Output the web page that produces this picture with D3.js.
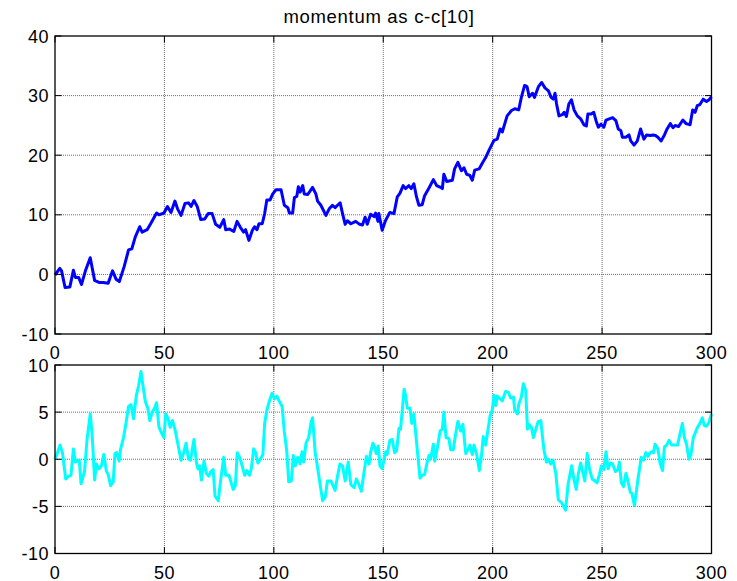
<!DOCTYPE html>
<html>
<head>
<meta charset="utf-8">
<script src="https://cdn.jsdelivr.net/npm/d3@7"></script>
<style>
  html, body { margin: 0; padding: 0; background: #fff; }
  svg { display: block; }
  text { font-family: "Liberation Sans", Arial, sans-serif; fill: #000; }
</style>
</head>
<body>
<svg id="chart" width="737" height="581"></svg>
<script>
const title = "momentum as c-c[10]";
const xTicks = [0, 50, 100, 150, 200, 250, 300];
const topTicks = [-10, 0, 10, 20, 30, 40];
const botTicks = [-10, -5, 0, 5, 10];

const topT = [0,2.2,3,4.6,6.8,8.4,9.3,10.8,12.1,13.9,16.1,18.1,20.1,22,24.3,26.3,27.9,29.4,31.6,33.6,35.1,36.7,38.7,39.8,42.1,43.7,44.9,46.4,47.5,49.8,51.4,53,54.8,56,57.6,59.4,61,62.2,63.5,65,66.6,68.4,70,71.8,73.4,
75.3,77.1,78,79.8,81.7,83.2,84.7,86.2,87.1,88.6,90.2,91.2,92.3,93.2,94.7,95.8,96.8,98.3,99.5,101,103.3,104.8,106.4,107.1,108.6,109.4,110.5,111.2,112,113.2,113.9,115.5,117.7,119.2,120,121.5,123.8,125.3,126.8,128,129.1,130.3,131.4,132.6,133.6,135.2,137.4,139.2,140.5,141.7,142.7,144.2,145.8,146.5,147.6,148,149.5,
151,153,154.9,156.4,157.6,159.1,160.2,161.7,162.8,164,165.2,166.3,167.8,168.9,170.9,172.9,174.4,176.2,177,177.7,179,181.6,182.6,184.1,185.7,186.9,188.1,189.6,190.7,191.8,193.8,195.3,196.8,198.3,200.6,202.1,203.4,204.4,
206.6,208.6,210.1,211.9,213.1,214.6,215.7,216.7,218.2,219.1,220.9,222.4,223.9,225.5,226.7,227.7,228.5,229.2,230.3,231.8,232.7,233.7,234.8,236,237.2,238.7,240.2,241.7,242.8,243.5,245,246.2,247.3,248.3,249.5,250.8,251.8,253.3,254.8,256.3,257.4,258.6,259.3,260.8,262.3,263.1,264.6,266.1,267.6,269.1,270.3,272.1,273.3,274.4,275.5,277,278.5,279.7,281.2,282.4,283.4,284.9,286.9,288.4,290.2,291.4,292.5,293.5,294.7,296.2,297.7,298.9,300];
const topV = [-0.1,1.0,0.6,-2.2,-2.1,0.7,-0.5,-0.5,-1.7,0.6,2.8,-1.0,-1.35,-1.35,-1.5,0.6,-0.8,-1.2,1.3,4.1,4.3,6.3,8.0,7.1,7.5,8.5,9.3,10.3,10.0,10.3,11.4,10.4,12.3,11.0,9.9,11.9,12.0,11.4,12.4,11.4,9.2,9.3,10.2,10.2,8.4,
7.9,9.2,7.5,7.6,7.2,8.9,7.9,7.1,7.5,5.7,7.4,8.0,7.5,8.5,8.5,10.2,12.5,12.5,13.5,14.2,14.2,11.6,11.2,10.3,10.3,12.9,13.1,14.7,13.8,14.9,13.5,13.4,14.6,13.5,12.3,11.6,9.9,11.0,11.6,11.2,11.6,12.0,10.2,8.4,9.0,8.5,8.9,8.4,8.3,9.6,8.4,10.1,9.7,10.3,8.9,10.2,7.4,
9.0,10.4,10.2,13.0,13.6,14.9,14.4,14.9,14.4,15.2,13.0,11.6,11.7,13.2,14.5,15.9,14.9,14.6,14.4,16.8,15.6,15.8,17.7,18.8,17.4,17.9,16.8,16.6,15.8,17.5,17.7,18.7,19.6,20.8,22.5,22.7,24.4,23.9,
26.6,27.5,27.8,27.6,29.7,31.7,31.5,29.8,30.4,29.7,31.5,32.2,31.3,30.8,29.7,29.4,30.4,28.6,26.6,26.8,27.2,26.5,28.6,29.3,27.6,26.6,26.1,25.1,24.9,26.9,26.9,27.2,25.7,24.7,25.2,24.7,25.9,26.1,26.3,25.8,24.4,24.1,23.0,23.0,23.4,22.4,21.7,22.4,24.4,22.7,23.4,23.3,23.4,23.3,23.0,22.4,23.4,24.4,25.3,24.6,25.0,24.8,25.9,25.3,25.1,27.6,27.2,28.3,28.5,29.4,29.0,29.3,29.8];

const botT = [0,1.1,2.3,3.4,4.9,6.2,7.3,8.4,9.3,10.4,11.1,11.9,13.5,14.6,16.1,17,18.1,18.9,20.1,21.2,22.3,23.5,24.3,25.4,26.6,27.4,28.2,29.3,30,31.3,32.5,33.6,34.7,35.9,37.2,38.2,39.3,40.2,41.3,42.4,43.3,44.4,45.5,46.4,47.5,49.1,49.8,50.6,51.7,52.6,53.7,54.8,56,57.6,58.8,59.9,61,61.9,63.5,64.6,65.3,66.1,66.9,68.1,69.2,70.3,71.2,72.3,73.1,
74.6,75.6,77.1,78,79.5,81.4,82.4,83.3,84.7,86.7,87.7,88.9,89.7,90.8,91.7,92.7,93.8,95,95.8,96.8,98,99.2,100.3,101.4,102.6,103.8,104.8,105.9,106.8,108,108.9,109.8,110.9,112,112.9,113.6,114.7,115.9,117,117.7,118.9,120,121.1,122.3,123.5,124.5,126.1,128,129.1,130.2,131.4,132.6,134,135.2,136.7,137.7,138.9,140,141.2,142.3,143.5,144.2,145.3,146.2,146.8,147.7,148.5,149.5,
151.1,151.8,153,154.1,155.2,156.1,157.2,157.9,158.7,159.5,160.2,161,162.2,163,164,165.5,166.8,167.8,168.9,170.1,170.9,171.6,172.9,173.5,174.7,176,177,177.7,178.7,180,180.8,182,183.1,184.1,185.4,186.4,187.7,188.7,189.6,190.7,191.5,192.7,193.9,194.8,195.7,196.8,197.9,198.8,199.8,200.6,201.4,202.1,203.4,204.4,205.9,207.2,208.2,209.5,210.1,211.3,212,213.1,214,215.1,215.9,216.6,217.7,218.6,219.7,220.8,222,222.8,223.5,224.6,
225.5,226.5,227.6,228.8,230,231.5,233.3,234.5,236.1,237.1,238.2,239.1,240.2,241.2,242.1,243.2,244.2,245.5,246.7,247.7,248.8,249.7,250.8,251.8,252.7,253.8,254.8,256.1,257.3,257.9,258.8,259.8,260.9,261.8,262.9,263.6,264.8,266.4,267.9,268.9,270,270.9,272,272.7,273.5,274.2,275.5,276.5,277.6,278.5,279.5,280.6,281.8,283,284.5,285.6,286.7,287.6,288.6,289.7,290.6,291.7,292.4,293.6,294.7,295.8,296.7,297.7,298.8,300];
const botV = [0,0.7,1.5,0.7,-2.1,-1.8,-1.7,1.1,-0.3,-0.1,-0.1,-2.6,-1.3,2.0,4.8,2.5,-2.2,-0.5,-1.0,-0.7,0.5,-1.3,-1.6,-2.8,-2.4,0.6,0.7,-0.2,1.1,2.3,3.9,5.6,5.8,4.3,6.8,7.8,9.3,7.8,6.1,5.4,4.1,5.0,5.4,6.0,3.4,2.6,2.3,4.8,4.3,3.4,4.1,3.2,1.8,-0.1,0.7,1.7,0,-0.1,2.1,-0.3,-1.0,-0.7,-2.2,-0.2,-1.5,-1.8,-1.3,-1.1,-3.9,
-4.4,-2.4,0.2,-1.7,-1.7,-3.2,-2.8,0.7,0,-1.7,-1.2,-1.7,-1.0,1.1,0.7,-0.4,0,0.5,3.8,5.2,6.2,7.0,6.4,6.7,6.1,5.6,2.9,0.9,-2.4,-2.3,0.4,-0.7,0.2,-0.5,0.8,-0.3,1.7,2.3,3.9,4.4,0.7,-0.9,-2.6,-4.4,-4.0,-2.3,-2.3,-3.3,-1.8,-0.5,-0.7,-2.3,-0.3,-2.7,-3.0,-2.1,-2.7,-3.4,-1.4,0.3,-0.5,0.7,1.7,1.2,0.6,1.4,-0.7,-1.0,
0.8,0.5,2.0,2.1,0.7,0.9,3.3,3.2,5.2,7.4,6.8,5.4,5.4,3.8,4.8,1.1,-2.0,-1.7,-1.6,-0.3,0.4,0,1.6,-0.2,1.2,3.0,3.2,5.0,2.3,2.2,1.0,1.0,2.7,4.0,3.0,3.7,0.6,1.0,1.5,0.5,1.5,0.5,-1.2,0.2,2.4,1.5,3.2,4.6,5.2,6.8,5.7,6.7,6.4,6.2,7.2,7.1,6.5,6.6,5.2,4.8,5.9,6.6,8.0,7.3,3.2,3.7,3.4,2.3,3.2,4.0,4.1,2.3,0.9,-0.3,
0,-0.5,-0.1,-1.4,-4.3,-4.6,-5.4,-2.6,-0.7,-2.1,-3.2,-1.6,-0.4,-1.4,-2.3,0.6,-1.0,-2.1,-2.3,-2.5,-1.6,-0.7,-1.1,0.8,-1.0,-0.4,-0.5,-1.3,-1.1,-0.3,-2.5,-2.9,-1.5,-2.3,-3.5,-3.6,-4.9,-2.1,0.2,-0.1,0.7,0.3,0.7,0.8,0.7,1.6,1.1,-0.4,-1.2,1.3,1.5,2.0,1.5,1.5,1.5,2.7,3.8,2.3,1.6,0,0.5,2.3,2.7,3.4,3.8,4.4,3.6,3.5,3.9,4.8];

const svg = d3.select("#chart");
const L = 55, R = 711.5;
const panels = [
  { top: 36, bottom: 334, domain: [-10, 40], ticks: topTicks, t: topT, v: topV, color: "#0000ff" },
  { top: 365, bottom: 553.5, domain: [-10, 10], ticks: botTicks, t: botT, v: botV, color: "#00ffff" }
];
const x = d3.scaleLinear().domain([0, 300]).range([L, R]);
const TL = 6.5;

svg.append("text")
  .attr("x", 379).attr("y", 23)
  .attr("text-anchor", "middle")
  .style("font-size", "18.5px")
  .style("letter-spacing", "0.7px")
  .text(title);

panels.forEach(p => {
  const y = d3.scaleLinear().domain(p.domain).range([p.bottom, p.top]);
  const g = svg.append("g");
  // grid
  const grid = g.append("g").attr("stroke", "#6e6e6e").attr("stroke-width", 1).attr("stroke-dasharray", "1,1");
  xTicks.slice(1, -1).forEach(t => {
    grid.append("line").attr("x1", x(t)).attr("x2", x(t)).attr("y1", p.top).attr("y2", p.bottom);
  });
  p.ticks.slice(1, -1).forEach(t => {
    grid.append("line").attr("x1", L).attr("x2", R).attr("y1", y(t)).attr("y2", y(t));
  });
  // line
  const pts = p.t.map((t, i) => [t, p.v[i]]);
  g.append("path")
    .datum(pts)
    .attr("fill", "none")
    .attr("stroke", p.color)
    .attr("stroke-width", 3)
    .attr("stroke-linejoin", "round")
    .attr("d", d3.line().x(d => x(d[0])).y(d => y(d[1])));
  // ticks inward
  const tk = g.append("g").attr("stroke", "#000").attr("stroke-width", 1);
  xTicks.forEach(t => {
    tk.append("line").attr("x1", x(t)).attr("x2", x(t)).attr("y1", p.bottom).attr("y2", p.bottom - TL);
    tk.append("line").attr("x1", x(t)).attr("x2", x(t)).attr("y1", p.top).attr("y2", p.top + TL);
  });
  p.ticks.forEach(t => {
    tk.append("line").attr("x1", L).attr("x2", L + TL).attr("y1", y(t)).attr("y2", y(t));
    tk.append("line").attr("x1", R).attr("x2", R - TL).attr("y1", y(t)).attr("y2", y(t));
  });
  // box
  g.append("rect")
    .attr("x", L).attr("y", p.top)
    .attr("width", R - L).attr("height", p.bottom - p.top)
    .attr("fill", "none").attr("stroke", "#000").attr("stroke-width", 1.3);
  // labels
  xTicks.forEach(t => {
    g.append("text")
      .attr("x", x(t)).attr("y", p.bottom + 25)
      .attr("text-anchor", "middle")
      .style("font-size", "18px")
      .style("letter-spacing", "0.5px")
      .text(t);
  });
  p.ticks.forEach(t => {
    g.append("text")
      .attr("x", 49).attr("y", y(t) + 6.5)
      .attr("text-anchor", "end")
      .style("font-size", "18px")
      .style("letter-spacing", "0.5px")
      .text(t);
  });
});
</script>
</body>
</html>
